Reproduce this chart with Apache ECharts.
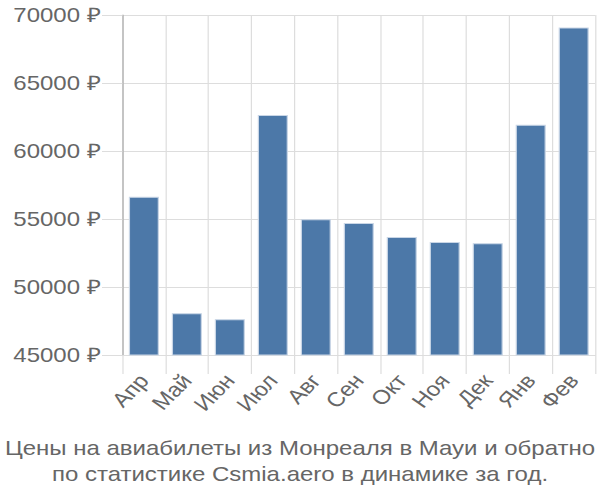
<!DOCTYPE html>
<html><head><meta charset="utf-8">
<script src="https://cdn.jsdelivr.net/npm/echarts@6/dist/echarts.min.js"></script>
<style>html,body{margin:0;padding:0;background:#fff;overflow:hidden}#c{width:500px;height:500px;transform:scaleX(1.2);transform-origin:0 0}</style>
</head><body><div id="c"></div>
<script>
const categories = ["Апр","Май","Июн","Июл","Авг","Сен","Окт","Ноя","Дек","Янв","Фев"];
const prices = [56640, 48070, 47620, 62650, 54980, 54700, 53680, 53310, 53210, 61930, 69090];
const titleLines = ["Цены на авиабилеты из Монреаля в Мауи и обратно", "по статистике Csmia.aero в динамике за год."];

const FONT = '"Liberation Sans", Arial, sans-serif';
const chart = echarts.init(document.getElementById('c'), null, {renderer:'svg', width:500, height:500});
chart.setOption({
  animation:false,
  textStyle:{fontFamily:FONT},
  title:{
    text: titleLines.join('\n'),
    left:'center', bottom:8,
    textStyle:{fontSize:20, fontWeight:'normal', color:'#666', lineHeight:26, fontFamily:FONT}
  },
  grid:{left:102, right:4, top:15, bottom:145, containLabel:false},
  xAxis:{
    type:'category', data:categories,
    axisLine:{show:true, lineStyle:{color:'#ddd', width:1}},
    axisTick:{show:true, length:19, lineStyle:{color:'#ddd'}},
    splitLine:{show:true, lineStyle:{color:'#ddd'}},
    axisLabel:{rotate:50, fontSize:20, color:'#666', margin:22, interval:0, fontFamily:FONT}
  },
  yAxis:{
    type:'value', min:45000, max:70000, interval:5000,
    axisLine:{show:true, lineStyle:{color:'#aaa', width:1}},
    axisTick:{show:true, length:17, lineStyle:{color:'#ddd'}},
    splitLine:{show:true, lineStyle:{color:'#ddd'}},
    axisLabel:{fontSize:20, color:'#666', margin:18, fontFamily:FONT, formatter: v => v + ' ₽'}
  },
  series:[{
    type:'bar', data:prices, barCategoryGap:'30%',
    itemStyle:{color:'#4c78a8', borderColor:'#c9d6e6', borderWidth:1}
  }]
});
</script></body></html>
